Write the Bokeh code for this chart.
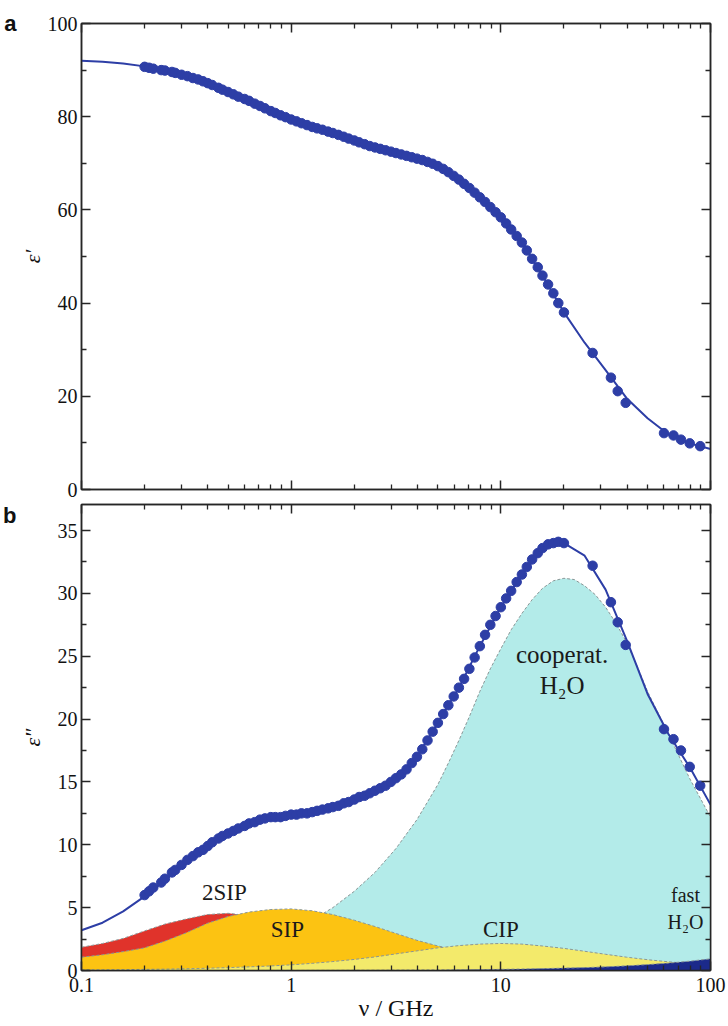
from bokeh.plotting import figure
from bokeh.layouts import column
from bokeh.models import Range1d, LogAxis, LinearAxis, FixedTicker, CustomJSTickFormatter
from bokeh.embed import file_html
from bokeh.resources import INLINE
from bokeh.models import Label

# ---------------- data ----------------
# frequency grid (GHz) for fitted curves and model components
grid_freq = [0.1, 0.126, 0.158, 0.2, 0.251, 0.316, 0.398, 0.501, 0.631, 0.794,
             1.0, 1.26, 1.58, 2.0, 2.51, 3.16, 3.98, 5.01, 6.31, 7.94,
             10.0, 12.6, 15.8, 20.0, 25.1, 31.6, 39.8, 50.1, 63.1, 79.4, 100.0]

fit_eps1 = [92.0, 91.8, 91.4, 90.8, 90.0, 88.8, 87.2, 85.3, 83.4, 81.3,
            79.4, 77.8, 76.5, 74.9, 73.4, 72.2, 71.0, 69.4, 66.5, 62.7,
            58.4, 53.0, 45.9, 38.0, 31.5, 25.6, 19.6, 15.3, 11.8, 9.9, 8.7]

fit_eps2 = [3.2, 3.8, 4.7, 5.9, 7.2, 8.7, 9.9, 10.9, 11.7, 12.1,
            12.4, 12.6, 13.0, 13.6, 14.3, 15.3, 17.0, 19.7, 22.5, 25.8,
            28.9, 31.5, 33.5, 34.0, 33.0, 30.3, 26.3, 22.0, 18.8, 16.2, 13.2]

# cooperative water relaxation, on its own finer grid
coop_freq = [0.1, 0.126, 0.158, 0.2, 0.251, 0.316, 0.398, 0.501, 0.631, 0.794,
             1.0, 1.26, 1.58, 2.0, 2.51, 3.16, 3.98, 5.01, 5.62, 6.31, 7.08, 7.94, 8.91,
             10.0, 11.2, 12.6, 14.1, 15.8, 17.8, 20.0, 22.4, 25.1, 28.2, 31.6, 35.5,
             39.8, 44.7, 50.1, 63.1, 79.4, 100.0]
coop_h2o = [0.3, 0.4, 0.5, 0.7, 0.9, 1.1, 1.4, 1.8, 2.2, 2.7,
            3.3, 4.0, 5.0, 6.3, 7.8, 9.7, 12.0, 14.8, 16.5, 18.3, 20.2, 22.2, 24.0,
            25.6, 27.1, 28.4, 29.5, 30.4, 31.0, 31.2, 31.1, 30.6, 29.9, 28.9, 27.6,
            26.1, 24.2, 22.2, 18.8, 15.3, 12.2]

two_sip = [1.85, 2.15, 2.55, 3.15, 3.7, 4.1, 4.45, 4.55, 4.35, 4.05,
           3.6, 3.0, 2.5, 2.0, 1.6, 1.25, 0.95, 0.72, 0.55, 0.42,
           0.32, 0.25, 0.19, 0.15, 0.12, 0.09, 0.07, 0.06, 0.05, 0.04, 0.03]

sip = [1.06, 1.25, 1.5, 1.8, 2.35, 3.0, 3.75, 4.3, 4.65, 4.85,
       4.9, 4.75, 4.45, 4.0, 3.5, 2.95, 2.4, 1.95, 1.6, 1.3,
       1.05, 0.85, 0.68, 0.55, 0.45, 0.37, 0.3, 0.25, 0.2, 0.16, 0.13]

cip = [0.05, 0.06, 0.07, 0.09, 0.11, 0.14, 0.18, 0.23, 0.29, 0.36,
       0.45, 0.57, 0.71, 0.88, 1.08, 1.32, 1.56, 1.80, 1.98, 2.10,
       2.15, 2.10, 1.95, 1.76, 1.53, 1.29, 1.06, 0.86, 0.69, 0.55, 0.44]

fast_h2o = [0.001, 0.001, 0.001, 0.002, 0.002, 0.003, 0.004, 0.005, 0.006, 0.007,
            0.009, 0.012, 0.015, 0.019, 0.023, 0.03, 0.037, 0.047, 0.059, 0.074,
            0.093, 0.12, 0.15, 0.19, 0.23, 0.29, 0.37, 0.47, 0.59, 0.74, 0.93]

# measured points (dense part)
pt_freq = [0.20, 0.21, 0.22, 0.24, 0.25, 0.27, 0.28, 0.30, 0.32, 0.34,
           0.36, 0.38, 0.40, 0.42, 0.45, 0.47, 0.50, 0.53, 0.56, 0.60,
           0.63, 0.67, 0.71, 0.75, 0.80, 0.84, 0.89, 0.94, 1.0, 1.06,
           1.12, 1.19, 1.26, 1.33, 1.41, 1.50, 1.58, 1.68, 1.78, 1.88,
           2.0, 2.11, 2.24, 2.37, 2.51, 2.66, 2.82, 2.99, 3.16, 3.35,
           3.55, 3.76, 3.98, 4.22, 4.47, 4.73, 5.01, 5.31, 5.62, 5.96,
           6.31, 6.68, 7.08, 7.50, 7.94, 8.41, 8.91, 9.44, 10.0, 10.6,
           11.2, 11.9, 12.6, 13.3, 14.1, 15.0, 15.8, 16.8, 17.8, 18.8, 20.0]

pt_eps1 = [90.7, 90.5, 90.3, 90.0, 89.9, 89.6, 89.4, 89.0, 88.7, 88.3,
           88.0, 87.6, 87.2, 86.8, 86.2, 85.8, 85.3, 84.8, 84.3, 83.8,
           83.4, 82.8, 82.3, 81.8, 81.2, 80.8, 80.3, 79.9, 79.4, 79.0,
           78.6, 78.2, 77.8, 77.5, 77.2, 76.8, 76.5, 76.1, 75.7, 75.3,
           74.9, 74.5, 74.1, 73.7, 73.4, 73.1, 72.8, 72.5, 72.2, 71.9,
           71.6, 71.3, 71.0, 70.7, 70.3, 69.9, 69.4, 68.8, 68.1, 67.3,
           66.5, 65.6, 64.7, 63.7, 62.7, 61.7, 60.6, 59.5, 58.4, 57.1,
           55.8, 54.4, 53.0, 51.3, 49.5, 47.7, 45.9, 44.0, 42.1, 40.0, 38.0]

pt_eps2 = [6.0, 6.3, 6.6, 7.0, 7.3, 7.8, 8.0, 8.4, 8.8, 9.1,
           9.4, 9.6, 9.9, 10.2, 10.5, 10.7, 10.9, 11.1, 11.3, 11.5,
           11.7, 11.8, 12.0, 12.1, 12.2, 12.2, 12.2, 12.3, 12.4, 12.4,
           12.5, 12.5, 12.6, 12.7, 12.8, 12.9, 13.0, 13.1, 13.3, 13.4,
           13.6, 13.8, 13.9, 14.1, 14.3, 14.5, 14.7, 15.0, 15.3, 15.6,
           16.0, 16.5, 17.0, 17.6, 18.3, 19.0, 19.7, 20.4, 21.1, 21.8,
           22.5, 23.2, 24.0, 24.9, 25.8, 26.7, 27.5, 28.2, 28.9, 29.6,
           30.2, 30.9, 31.5, 32.1, 32.7, 33.2, 33.6, 33.9, 34.0, 34.1, 34.0]

# measured points (sparse high-frequency part)
hf_freq = [27.4, 33.5, 36.1, 39.4, 60.0, 66.6, 72.3, 79.6, 89.3]
hf_eps1 = [29.3, 24.0, 21.1, 18.6, 12.1, 11.6, 10.7, 9.9, 9.3]
hf_eps2 = [32.2, 29.3, 27.7, 25.9, 19.2, 18.4, 17.5, 16.2, 14.7]

x_major = [0.1, 1, 10, 100]
x_minor = [0.2, 0.3, 0.4, 0.5, 0.6, 0.7, 0.8, 0.9,
           2, 3, 4, 5, 6, 7, 8, 9,
           20, 30, 40, 50, 60, 70, 80, 90]
y1_major = [0, 20, 40, 60, 80, 100]
y1_minor = [10, 30, 50, 70, 90]
y2_major = [0, 5, 10, 15, 20, 25, 30, 35]
y2_minor = [2.5, 7.5, 12.5, 17.5, 22.5, 27.5, 32.5]

# ---------------- style ----------------
SERIF = "Liberation Serif"
SANS = "Liberation Sans"
AX = "#262626"
BLUE = "#2d3ea6"
EDGE = "#8a9696"


def style_axis(ax, ticker, labels):
    ax.ticker = ticker
    ax.major_tick_in = 9
    ax.major_tick_out = 0
    ax.minor_tick_in = 5
    ax.minor_tick_out = 0
    ax.axis_line_color = AX
    ax.axis_line_width = 1.5
    ax.major_tick_line_color = AX
    ax.major_tick_line_width = 1.5
    ax.minor_tick_line_color = AX
    ax.minor_tick_line_width = 1.3
    if labels:
        ax.major_label_text_font = SERIF
        ax.major_label_text_font_size = "20px"
        ax.major_label_text_color = "#111111"
        ax.major_label_standoff = 4
    else:
        ax.formatter = CustomJSTickFormatter(code="return '';")
        ax.major_label_text_font_size = "1px"
        ax.major_label_text_alpha = 0
        ax.major_label_standoff = 0


def panel_letter_axis(letter, ypos):
    # an extra, line-less left axis whose single tick label is the panel letter
    ax = LinearAxis(ticker=FixedTicker(ticks=[ypos], minor_ticks=[]),
                    formatter=CustomJSTickFormatter(code="return '%s';" % letter))
    ax.axis_line_color = None
    ax.major_tick_line_color = None
    ax.minor_tick_line_color = None
    ax.major_tick_in = 0
    ax.major_tick_out = 0
    ax.major_label_standoff = 0
    ax.major_label_text_font = SANS
    ax.major_label_text_font_style = "bold"
    ax.major_label_text_font_size = "22px"
    ax.major_label_text_color = "#111111"
    return ax


def make_fig(height, ymax, top_border, bottom_border):
    p = figure(x_axis_type="log", x_range=Range1d(0.1, 100), y_range=Range1d(0, ymax),
               width=728, height=height, min_border_left=78, min_border_right=18,
               min_border_top=top_border, min_border_bottom=bottom_border,
               toolbar_location=None, output_backend="svg",
               background_fill_color="white", border_fill_color="white",
               outline_line_color=AX, outline_line_width=1.5)
    p.grid.visible = False
    return p


# ---------------- panel a ----------------
p1 = make_fig(500, 100, 23, 11)
style_axis(p1.xaxis[0], FixedTicker(ticks=x_major, minor_ticks=x_minor), False)
style_axis(p1.yaxis[0], FixedTicker(ticks=y1_major, minor_ticks=y1_minor), True)
top1 = LogAxis()
style_axis(top1, FixedTicker(ticks=x_major, minor_ticks=x_minor), False)
p1.add_layout(top1, "above")
right1 = LinearAxis()
style_axis(right1, FixedTicker(ticks=y1_major, minor_ticks=y1_minor), False)
p1.add_layout(right1, "right")
p1.yaxis[0].axis_label = "ε′"
p1.yaxis[0].axis_label_text_font = SERIF
p1.yaxis[0].axis_label_text_font_style = "italic"
p1.yaxis[0].axis_label_text_font_size = "22px"
p1.yaxis[0].axis_label_text_color = "#111111"
p1.yaxis[0].axis_label_standoff = 0
p1.add_layout(panel_letter_axis("a", 100), "left")

p1.line(grid_freq, fit_eps1, line_color=BLUE, line_width=2)
p1.scatter(pt_freq, pt_eps1, size=9.5, fill_color=BLUE, line_color=BLUE)
p1.scatter(hf_freq, hf_eps1, size=9.5, fill_color=BLUE, line_color=BLUE)

# ---------------- panel b ----------------
p2 = make_fig(526, 37.07, 4, 56)
style_axis(p2.xaxis[0], FixedTicker(ticks=x_major, minor_ticks=x_minor), True)
p2.xaxis[0].formatter = CustomJSTickFormatter(code="return tick.toString();")
p2.xaxis[0].major_label_standoff = 7
p2.xaxis[0].axis_label = "ν / GHz"
p2.xaxis[0].axis_label_text_font = SERIF
p2.xaxis[0].axis_label_text_font_style = "normal"
p2.xaxis[0].axis_label_text_font_size = "24px"
p2.xaxis[0].axis_label_text_color = "#111111"
p2.xaxis[0].axis_label_standoff = 0
style_axis(p2.yaxis[0], FixedTicker(ticks=y2_major, minor_ticks=y2_minor), True)
top2 = LogAxis()
style_axis(top2, FixedTicker(ticks=x_major, minor_ticks=x_minor), False)
p2.add_layout(top2, "above")
right2 = LinearAxis()
style_axis(right2, FixedTicker(ticks=y2_major, minor_ticks=y2_minor), False)
p2.add_layout(right2, "right")
p2.yaxis[0].axis_label = "ε″"
p2.yaxis[0].axis_label_text_font = SERIF
p2.yaxis[0].axis_label_text_font_style = "italic"
p2.yaxis[0].axis_label_text_font_size = "22px"
p2.yaxis[0].axis_label_text_color = "#111111"
p2.yaxis[0].axis_label_standoff = 10
p2.add_layout(panel_letter_axis("b", 36.6), "left")

p2.varea(x=coop_freq, y1=0, y2=coop_h2o, fill_color="#b3ebe9")
p2.line(coop_freq, coop_h2o, line_color=EDGE, line_width=1, line_dash="3 2")
components = [
    (two_sip, "#e0332b"),
    (sip, "#fcc312"),
    (cip, "#f3ea6b"),
    (fast_h2o, "#1b2a8a"),
]
for vals, col in components:
    p2.varea(x=grid_freq, y1=0, y2=vals, fill_color=col)
    p2.line(grid_freq, vals, line_color=EDGE, line_width=1, line_dash="3 2")

p2.line(grid_freq, fit_eps2, line_color=BLUE, line_width=2)
p2.scatter(pt_freq, pt_eps2, size=9.5, fill_color=BLUE, line_color=BLUE)
p2.scatter(hf_freq, hf_eps2, size=9.5, fill_color=BLUE, line_color=BLUE)

for txt, x, y, fs in [("2SIP", 0.48, 6.2, "23px"), ("SIP", 0.96, 3.3, "23px"),
                      ("CIP", 10.0, 3.3, "23px"), ("cooperat.", 19.6, 25.1, "25px"),
                      ("H₂O", 19.6, 22.7, "25px"), ("fast", 76.0, 6.0, "20px"),
                      ("H₂O", 76.0, 3.85, "20px")]:
    p2.add_layout(Label(x=x, y=y, text=txt, text_font=SERIF, text_font_size=fs,
                        text_align="center", text_baseline="middle", text_color="#1a1a1a"))

layout = column(p1, p2, spacing=0)
open("out.html", "w").write(file_html(layout, INLINE))
